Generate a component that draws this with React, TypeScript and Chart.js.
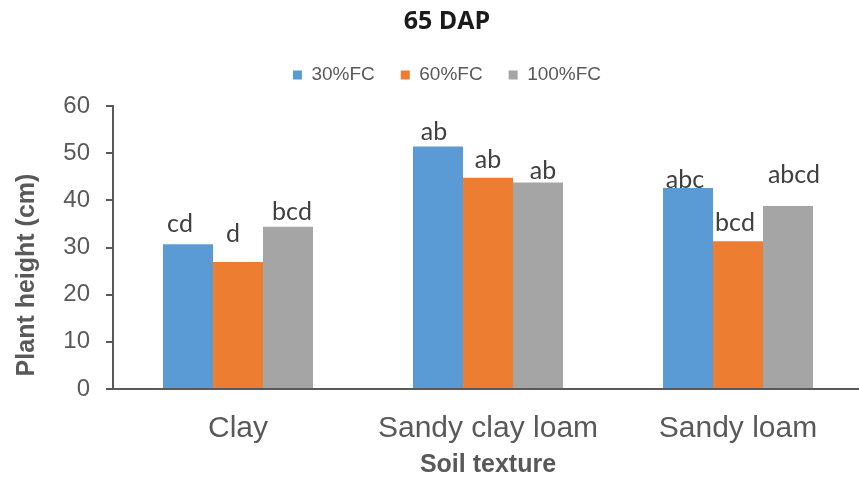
import React, { useEffect, useRef } from 'react';
import { Chart, registerables } from 'chart.js';

Chart.register(...registerables);

const categories = ['Clay', 'Sandy clay loam', 'Sandy loam'];
const seriesNames = ['30%FC', '60%FC', '100%FC'];
const fc30 = [30.7, 51.4, 42.6];
const fc60 = [26.9, 44.8, 31.3];
const fc100 = [34.4, 43.8, 38.8];
const letters30 = ['cd', 'ab', 'abc'];
const letters60 = ['d', 'ab', 'bcd'];
const letters100 = ['bcd', 'ab', 'abcd'];
const yTicks = [0, 10, 20, 30, 40, 50, 60];

// hand placement of the significance letters (pixels: [dx, lift above bar])
const letterShift = [
  [[-8, 12], [-4, 7], [-3, 0]],
  [[-5, 20], [0, 10], [-3, 10]],
  [[4, 7], [5, 3], [6, 23]],
];

const TEXT = '#595959';

export default function App() {
  const ref = useRef<HTMLCanvasElement | null>(null);

  useEffect(() => {
    if (!ref.current) return;
    const letters = [letters30, letters60, letters100];

    const labelPlugin = {
      id: 'letters',
      afterDatasetsDraw(chart: any) {
        const ctx = chart.ctx;
        ctx.save();
        ctx.font = '25px Lato';
        ctx.fillStyle = '#404040';
        ctx.textAlign = 'center';
        ctx.textBaseline = 'alphabetic';
        chart.data.datasets.forEach((ds: any, i: number) => {
          const meta = chart.getDatasetMeta(i);
          meta.data.forEach((el: any, j: number) => {
            const [dx, lift] = letterShift[i][j];
            ctx.fillText(letters[i][j], el.x + dx, el.y - lift);
          });
        });
        ctx.restore();
      },
    };

    const yTitlePlugin = {
      id: 'ytitle',
      afterDraw(chart: any) {
        const ctx = chart.ctx;
        ctx.save();
        ctx.translate(27, 275);
        ctx.rotate(-Math.PI / 2);
        ctx.font = 'bold 25px "Liberation Sans"';
        ctx.fillStyle = TEXT;
        ctx.textAlign = 'center';
        ctx.textBaseline = 'middle';
        ctx.fillText('Plant height (cm)', 0, 0);
        ctx.restore();
      },
    };

    const legendMargin = {
      id: 'legendMargin',
      beforeInit(chart: any) {
        const orig = chart.legend.fit;
        chart.legend.fit = function () {
          orig.bind(chart.legend)();
          this.height += 11.5;
        };
      },
    };

    const colors = ['#5B9BD5', '#ED7D31', '#A5A5A5'];
    const values = [fc30, fc60, fc100];

    const chart = new Chart(ref.current, {
      type: 'bar',
      data: {
        labels: categories,
        datasets: seriesNames.map((name, i) => ({
          label: name,
          data: values[i],
          backgroundColor: colors[i],
          borderWidth: 0,
          categoryPercentage: 0.6,
          barPercentage: 1,
        })),
      },
      options: {
        responsive: false,
        animation: false,
        layout: { padding: { left: 31, right: 31, top: 0, bottom: 0 } },
        plugins: {
          title: {
            display: true,
            text: '65 DAP',
            color: '#1a1a1a',
            font: { family: '"Open Sans"', size: 25, weight: 'bold' },
            padding: { top: 7, bottom: 2.5 },
          },
          legend: {
            display: true,
            position: 'top',
            labels: {
              color: TEXT,
              font: { family: '"Liberation Sans"', size: 19 },
              boxWidth: 9,
              boxHeight: 9,
              padding: 26,
            },
          },
          tooltip: { enabled: false },
        },
        scales: {
          x: {
            grid: { display: false, drawTicks: false },
            border: { display: true, color: '#595959', width: 2 },
            ticks: {
              color: TEXT,
              font: { family: '"Liberation Sans"', size: 30 },
              padding: 22,
            },
            title: {
              display: true,
              text: 'Soil texture',
              color: TEXT,
              font: { family: '"Liberation Sans"', size: 25, weight: 'bold' },
              padding: { top: 0, bottom: 0 },
            },
            afterFit(scale: any) {
              scale.height = 91;
            },
          },
          y: {
            min: 0,
            max: 60,
            afterBuildTicks(scale: any) {
              scale.ticks = yTicks.map((v) => ({ value: v }));
            },
            grid: {
              display: true,
              drawOnChartArea: false,
              drawTicks: true,
              tickLength: 7,
              color: '#595959',
              lineWidth: 2,
            },
            border: { display: true, color: '#595959', width: 2 },
            ticks: {
              color: TEXT,
              font: { family: '"Liberation Sans"', size: 24 },
              padding: 16,
            },
            afterFit(scale: any) {
              scale.width = 82;
            },
          },
        },
      },
      plugins: [labelPlugin, yTitlePlugin, legendMargin],
    } as any);

    return () => chart.destroy();
  }, []);

  return (
    <div style={{ position: 'fixed', left: 0, top: 0, width: 894, height: 480, background: '#fff' }}>
      <canvas ref={ref} width={894} height={480} style={{ width: 894, height: 480 }} />
    </div>
  );
}
